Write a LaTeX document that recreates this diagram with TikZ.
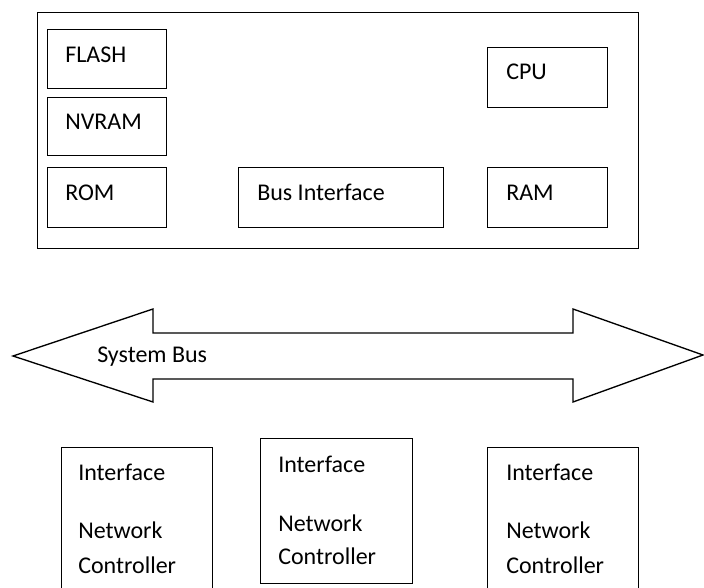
\documentclass[tikz,border=0pt]{standalone}
\usepackage{fontspec}
\setmainfont{Carlito}
\begin{document}
\begin{tikzpicture}[x=0.75pt,y=-0.75pt,
  box/.style={draw=black,line width=1pt,rectangle,inner sep=0pt,anchor=north west},
  txt/.style={anchor=base west,inner sep=0pt,font=\fontsize{18pt}{21pt}\selectfont}]
\useasboundingbox (0,0) rectangle (704,588);
% outer box
\node[box,minimum width=601*0.75pt,minimum height=236*0.75pt] (outer) at (37,12) {};
% inner boxes
\node[box,minimum width=119*0.75pt,minimum height=59*0.75pt] (flash) at (47,29) {};
\node[box,minimum width=119*0.75pt,minimum height=58*0.75pt] (nvram) at (47,97) {};
\node[box,minimum width=119*0.75pt,minimum height=60*0.75pt] (rom) at (47,167) {};
\node[box,minimum width=205*0.75pt,minimum height=60*0.75pt] (busif) at (238,167) {};
\node[box,minimum width=120*0.75pt,minimum height=60*0.75pt] (cpu) at (487,47) {};
\node[box,minimum width=120*0.75pt,minimum height=60*0.75pt] (ram) at (487,167) {};
\node[txt] (tflash) at (65,63) {FLASH};
\node[txt] (tnvram) at (65,130) {NVRAM};
\node[txt] (trom) at (65,201) {ROM};
\node[txt] (tbusif) at (257,201) {Bus Interface};
\node[txt] (tcpu) at (506,80) {CPU};
\node[txt] (tram) at (506,201) {RAM};
% system bus double arrow
\draw[line width=1pt,line join=miter] (13,356) -- (153,309) -- (153,333) -- (573,333) -- (573,309)
  -- (703,355) -- (573,402) -- (573,379) -- (153,379) -- (153,402) -- cycle;
\node[txt] (tbus) at (97,363) {System Bus};
% bottom boxes
\node[box,minimum width=151*0.75pt,minimum height=160*0.75pt] (nc1) at (61,447) {};
\node[box,minimum width=152*0.75pt,minimum height=145*0.75pt] (nc2) at (260,438) {};
\node[box,minimum width=151*0.75pt,minimum height=160*0.75pt] (nc3) at (487,447) {};
\node[txt] (i1) at (78,480) {Interface};
\node[txt] (n1) at (78,538) {Network};
\node[txt] (c1) at (78,573) {Controller};
\node[txt] (i2) at (278,472) {Interface};
\node[txt] (n2) at (278,531) {Network};
\node[txt] (c2) at (278,564) {Controller};
\node[txt] (i3) at (506,480) {Interface};
\node[txt] (n3) at (506,538) {Network};
\node[txt] (c3) at (506,573) {Controller};
\end{tikzpicture}
\end{document}
